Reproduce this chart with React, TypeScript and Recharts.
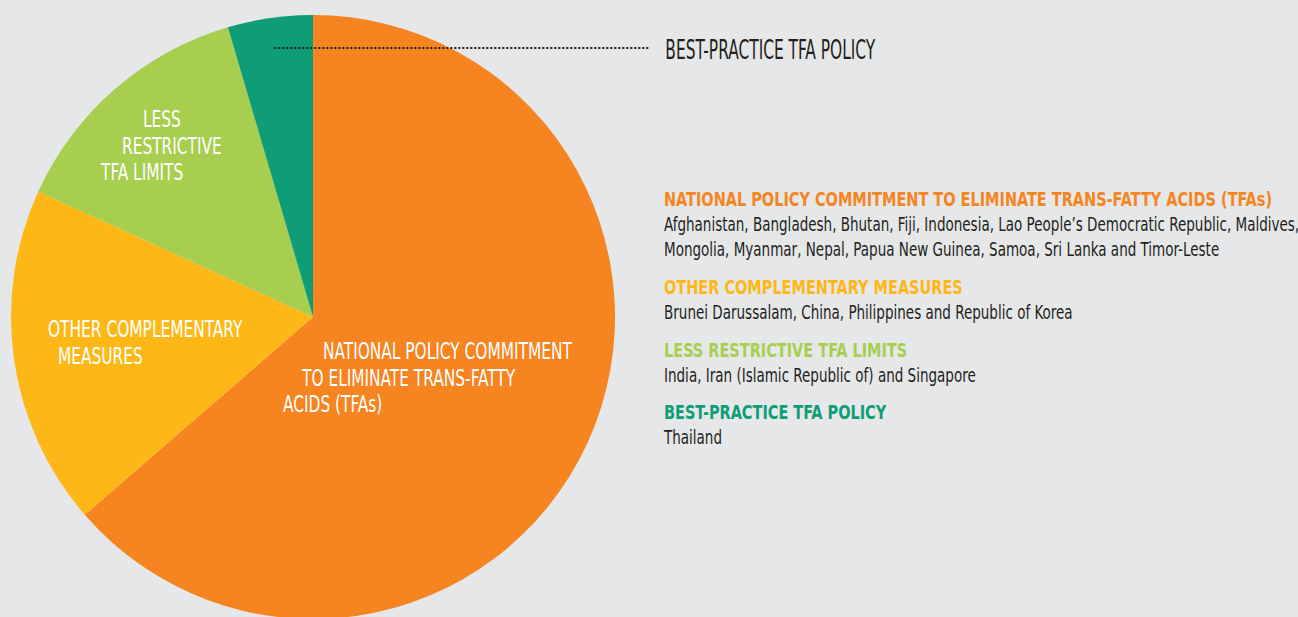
import { PieChart, Pie, Cell, Legend } from 'recharts';

const categories = [
  'NATIONAL POLICY COMMITMENT TO ELIMINATE TRANS-FATTY ACIDS (TFAs)',
  'OTHER COMPLEMENTARY MEASURES',
  'LESS RESTRICTIVE TFA LIMITS',
  'BEST-PRACTICE TFA POLICY',
];
const countryCounts = [14, 4, 3, 1];
const sliceLabels = [
  ['NATIONAL POLICY COMMITMENT', 'TO ELIMINATE TRANS-FATTY', 'ACIDS (TFAs)'],
  ['OTHER COMPLEMENTARY', 'MEASURES'],
  ['LESS', 'RESTRICTIVE', 'TFA LIMITS'],
  [],
];
const countryLines = [
  [
    'Afghanistan, Bangladesh, Bhutan, Fiji, Indonesia, Lao People\u2019s Democratic Republic, Maldives,',
    'Mongolia, Myanmar, Nepal, Papua New Guinea, Samoa, Sri Lanka and Timor-Leste',
  ],
  ['Brunei Darussalam, China, Philippines and Republic of Korea'],
  ['India, Iran (Islamic Republic of) and Singapore'],
  ['Thailand'],
];
const calloutIndex = 3;

const COLORS = ['#F58421', '#FDB817', '#A7CE4F', '#0F9D77'];
const BG = '#E6E7E8';
const INK = '#231F20';
// no condensed Futura here, so DejaVu Condensed squeezed horizontally
const FONT = '"DejaVu Sans Condensed", "DejaVu Sans", sans-serif';
const LABEL_SX = 0.745;
const CALLOUT_SX = 0.66;
const TITLE_SX = 0.805;
const BODY_SX = 0.77;

const data = categories.map((name, i) => ({ name, value: countryCounts[i] }));

// hand-placed text blocks inside the slices, offsets from the pie centre
const labelLayout = [
  { dx: [10, -11, -30], dy: 42 },
  { dx: [-265, -255], dy: 20 },
  { dx: [-170, -191, -212], dy: -190 },
];
const LABEL_STEP = 26.5;
const RAD = Math.PI / 180;

const renderLabel = (props: any) => {
  const { cx, cy, midAngle, outerRadius, index } = props;
  if (index === calloutIndex) {
    const r = outerRadius * 0.9;
    const x0 = cx + r * Math.cos(-midAngle * RAD);
    const y0 = cy + r * Math.sin(-midAngle * RAD);
    const x1 = x0 + 375;
    return (
      <g key={`callout-${index}`}>
        <line x1={x0} y1={y0} x2={x1} y2={y0} stroke={INK} strokeWidth={2} strokeDasharray="2 2" />
        <text
          transform={`translate(${x1 + 16},${y0 + 11.5}) scale(${CALLOUT_SX},1)`}
          fill={INK}
          fontSize={26}
          fontFamily={FONT}
        >
          {categories[index]}
        </text>
      </g>
    );
  }
  const lay = labelLayout[index];
  return (
    <g key={`label-${index}`}>
      {sliceLabels[index].map((line, j) => (
        <text
          key={j}
          transform={`translate(${cx + lay.dx[j]},${cy + lay.dy + j * LABEL_STEP}) scale(${LABEL_SX},1)`}
          fill="#FFFFFF"
          fontSize={23}
          fontFamily={FONT}
        >
          {line}
        </text>
      ))}
    </g>
  );
};

const squeeze = (sx: number) => ({
  whiteSpace: 'nowrap' as const,
  transform: `scaleX(${sx})`,
  transformOrigin: 'left center',
});

const LegendBlock = () => (
  <div style={{ fontFamily: FONT, lineHeight: '25px', color: INK, width: 640 }}>
    {categories.map((title, i) => (
      <div key={title} style={{ marginBottom: 12.8 }}>
        <div style={{ ...squeeze(TITLE_SX), color: COLORS[i], fontWeight: 700, fontSize: 20 }}>{title}</div>
        {countryLines[i].map((line) => (
          <div key={line} style={{ ...squeeze(BODY_SX), fontSize: 19.5 }}>{line}</div>
        ))}
      </div>
    ))}
  </div>
);

export default function App() {
  return (
    <div style={{ position: 'fixed', left: 0, top: 0, width: 1298, height: 617, background: BG, overflow: 'hidden' }}>
      <PieChart width={1298} height={617} margin={{ top: 0, right: 0, bottom: 0, left: 0 }}>
        <Pie
          data={data}
          dataKey="value"
          nameKey="name"
          cx={313}
          cy={317}
          outerRadius={302}
          startAngle={90}
          endAngle={-270}
          stroke="none"
          labelLine={false}
          label={renderLabel}
          isAnimationActive={false}
        >
          {data.map((d, i) => (
            <Cell key={d.name} fill={COLORS[i]} />
          ))}
        </Pie>
        <Legend
          content={<LegendBlock />}
          wrapperStyle={{ position: 'absolute', left: 664, top: 187, width: 'auto' }}
        />
      </PieChart>
    </div>
  );
}
